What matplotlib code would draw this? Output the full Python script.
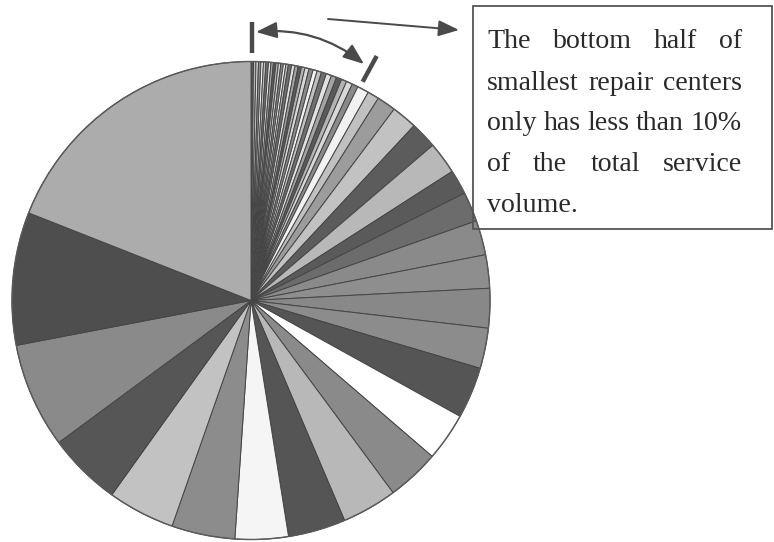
import numpy as np
import matplotlib.pyplot as plt
from matplotlib.patches import Rectangle, Circle

W, H = 774, 542

# service volume per repair center (smallest first)
small_centers = [0.6, 0.6, 0.6, 0.6, 0.6, 0.6, 0.6, 0.6, 0.6, 0.6, 0.6,
                 0.6, 0.6, 0.6, 0.6, 0.8, 0.8, 0.8, 0.8, 0.85, 1.0, 1.0,
                 1.0, 1.1, 1.2, 1.3, 1.3, 1.3, 1.3, 1.5, 1.5, 2.8, 2.8]
large_centers = [4.6, 6.2, 6.5, 7.8, 6.0, 7.2, 8.4, 8.1, 9.6, 9.8, 12.5,
                 11.7, 12.8, 13.4, 14.0, 12.9, 15.4, 16.3, 17.9, 25.6,
                 32.3, 68.4]
volumes = small_centers + large_centers

note_lines = ['The bottom half of',
              'smallest repair centers',
              'only has less than 10%',
              'of the total service',
              'volume.']

# grey fills, as in the scan
small_cycle = ['#5a5a5a', '#b4b4b4', '#d8d8d8', '#8a8a8a', '#f2f2f2',
               '#c0c0c0', '#707070', '#e2e2e2', '#a4a4a4']
small_colors = [small_cycle[i % len(small_cycle)] for i in range(len(small_centers))]
large_colors = ['#9c9c9c', '#c2c2c2', '#5c5c5c', '#b8b8b8', '#5a5a5a',
                '#6c6c6c', '#8a8a8a', '#8e8e8e', '#888888', '#8c8c8c',
                '#555555', '#ffffff', '#8a8a8a', '#b8b8b8', '#555555',
                '#f5f5f5', '#8c8c8c', '#c2c2c2', '#565656', '#8a8a8a',
                '#4e4e4e', '#acacac']
colors = small_colors + large_colors


def P(x, y):
    # picture pixel -> data coords (y up)
    return x, H - y


fig = plt.figure(figsize=(W / 100, H / 100), dpi=100)
ax = fig.add_axes([0, 0, 1, 1])

cx, cy = P(251, 300.5)
ax.pie(volumes, colors=colors, startangle=90, counterclock=False,
       center=(cx, cy), radius=239,
       wedgeprops=dict(edgecolor='#454545', linewidth=0.7))
ax.add_patch(Circle((cx, cy), 239, fill=False, edgecolor='#5a5a5a', lw=1.0))

ax.set_xlim(0, W)
ax.set_ylim(0, H)
ax.set_aspect('equal')
ax.axis('off')

ink = '#4a4a4a'

# bracket ticks
ax.plot(*zip(P(251.5, 22), P(251.5, 53)), color=ink, lw=3.2, solid_capstyle='butt')
ax.plot(*zip(P(362.7, 81.7), P(376.7, 56)), color=ink, lw=3.2, solid_capstyle='butt')

# curved double arrow between the ticks
ax.annotate('', xy=P(364, 64), xytext=P(256, 32),
            arrowprops=dict(arrowstyle='<|-|>,head_length=0.9,head_width=0.35',
                            connectionstyle='arc3,rad=-0.2', color=ink, lw=1.6,
                            shrinkA=0, shrinkB=0, mutation_scale=14))

# pointer to the note
ax.annotate('', xy=P(459, 30), xytext=P(328, 19),
            arrowprops=dict(arrowstyle='-|>,head_length=0.9,head_width=0.35',
                            color=ink, lw=1.4, shrinkA=0, shrinkB=0,
                            mutation_scale=14))

# note box
x0, y0 = P(473, 229)
ax.add_patch(Rectangle((x0, y0), 772 - 473, 229 - 6, fill=False,
                       edgecolor='#555555', lw=1.3))

# justified text inside the box
font = dict(family='Liberation Serif', color='#2a2a2a')
left, right = 487, 742
renderer = fig.canvas.get_renderer()
probe = ax.text(0, 0, note_lines[2], fontsize=16, **font)
w = probe.get_window_extent(renderer).width
probe.remove()
fsize = 16 * (right - left) / w

baselines = [48.5, 89.5, 130.3, 171, 211.7]
for k, line in enumerate(note_lines):
    words = line.split()
    bx, by = P(left, baselines[k])
    if k == len(note_lines) - 1 or len(words) == 1:
        ax.text(bx, by, line, fontsize=fsize, va='baseline', ha='left', **font)
        continue
    widths = []
    for wd in words:
        t = ax.text(0, 0, wd, fontsize=fsize, **font)
        widths.append(t.get_window_extent(renderer).width)
        t.remove()
    gap = (right - left - sum(widths)) / (len(words) - 1)
    x = left
    for wd, ww in zip(words, widths):
        ax.text(P(x, 0)[0], by, wd, fontsize=fsize, va='baseline', ha='left', **font)
        x += ww + gap

fig.savefig('out.png', dpi=100, facecolor='white')
